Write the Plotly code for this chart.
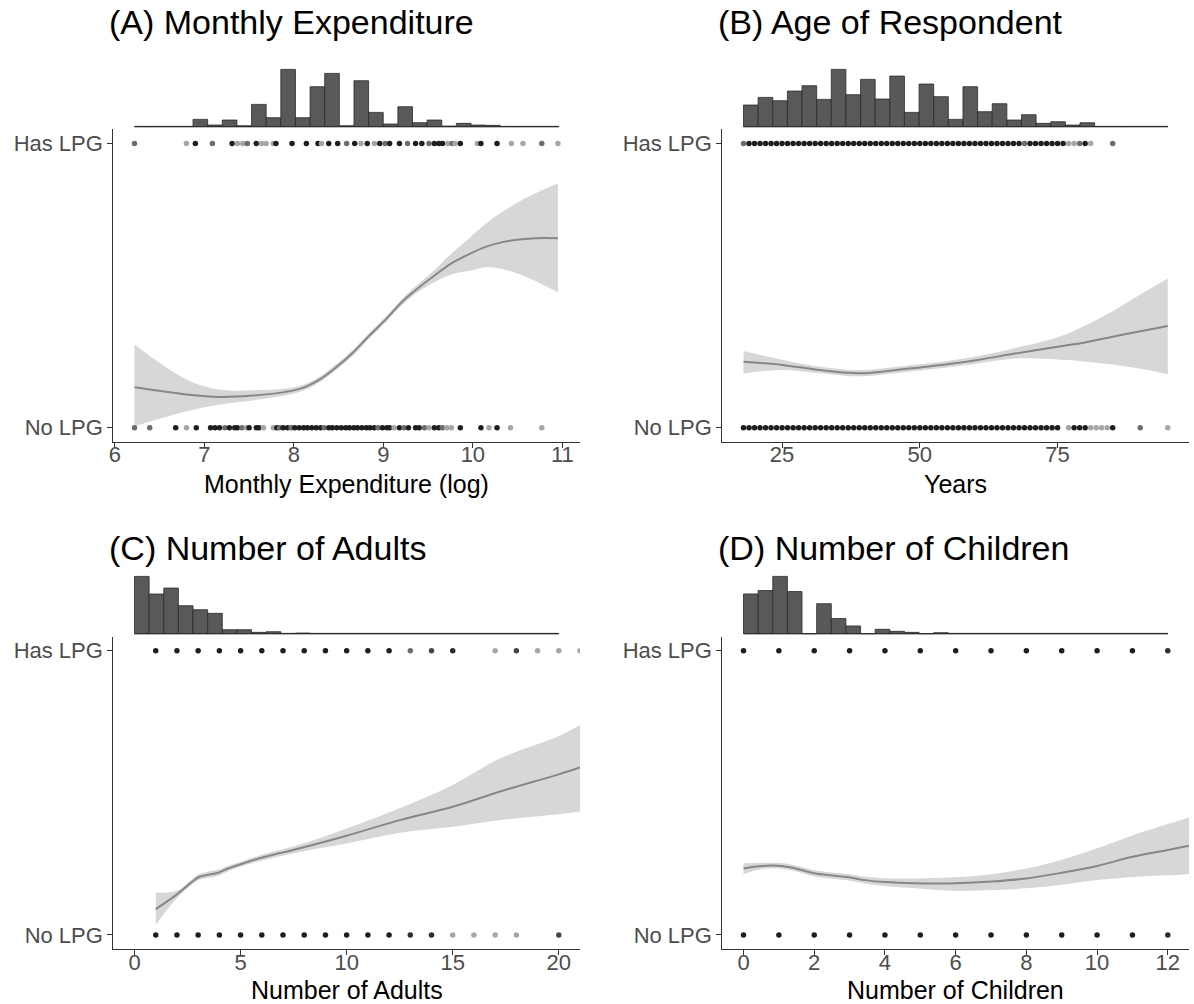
import numpy as np
import plotly.graph_objects as go

W, H = 1194, 1004
FONT = "Liberation Sans, Arial, Helvetica, sans-serif"

# ---------------------------------------------------------------- data
# (A) Monthly Expenditure (log)
a_curve_x = [6.22, 6.8, 7.17, 7.54, 7.91, 8.1, 8.29, 8.47, 8.66, 8.84, 9.03, 9.21, 9.4, 9.59, 9.77, 9.96, 10.15, 10.33, 10.52, 10.7, 10.95]
a_curve_y = [0.142, 0.117, 0.108, 0.113, 0.126, 0.14, 0.17, 0.212, 0.264, 0.323, 0.382, 0.443, 0.494, 0.54, 0.58, 0.611, 0.637, 0.653, 0.662, 0.667, 0.667]
a_curve_lo = [0.005, 0.058, 0.081, 0.096, 0.114, 0.13, 0.16, 0.202, 0.254, 0.313, 0.372, 0.432, 0.48, 0.515, 0.54, 0.552, 0.565, 0.558, 0.54, 0.516, 0.476]
a_curve_hi = [0.293, 0.17, 0.134, 0.132, 0.138, 0.15, 0.18, 0.222, 0.274, 0.333, 0.392, 0.454, 0.508, 0.56, 0.616, 0.667, 0.719, 0.76, 0.796, 0.825, 0.859]
a_has_x = [6.22, 6.80, 6.90, 7.09, 7.31, 7.37, 7.43, 7.48, 7.58, 7.64, 7.69, 7.77, 7.80, 7.98, 8.14, 8.27, 8.31, 8.39, 8.49, 8.59, 8.68, 8.75, 8.82, 8.90, 8.96, 9.02, 9.07, 9.18, 9.27, 9.36, 9.43, 9.51, 9.57, 9.62, 9.66, 9.72, 9.77, 9.80, 9.86, 10.05, 10.09, 10.27, 10.43, 10.56, 10.77, 10.95]
a_has_n = [2, 1, 5, 2, 5, 1, 1, 2, 5, 1, 1, 1, 5, 5, 5, 5, 1, 5, 5, 2, 5, 1, 5, 1, 5, 2, 5, 5, 2, 5, 5, 2, 5, 5, 5, 1, 2, 1, 5, 1, 5, 5, 1, 1, 2, 1]
a_no_x = [6.22, 6.39, 6.68, 6.80, 6.91, 7.07, 7.12, 7.17, 7.23, 7.28, 7.34, 7.37, 7.42, 7.47, 7.50, 7.58, 7.61, 7.66, 7.77, 7.81, 7.84, 7.88, 7.93, 7.97, 8.01, 8.06, 8.11, 8.15, 8.20, 8.25, 8.30, 8.34, 8.39, 8.43, 8.48, 8.53, 8.58, 8.62, 8.67, 8.71, 8.76, 8.81, 8.85, 8.90, 8.94, 8.99, 9.04, 9.07, 9.12, 9.18, 9.23, 9.28, 9.36, 9.40, 9.46, 9.51, 9.57, 9.62, 9.66, 9.71, 9.76, 9.86, 10.09, 10.18, 10.27, 10.42, 10.77]
a_no_n = [2, 2, 5, 1, 5, 5, 5, 5, 2, 5, 5, 5, 2, 1, 5, 5, 5, 1, 1, 5, 2, 5, 5, 2, 5, 5, 5, 5, 5, 5, 5, 2, 5, 5, 5, 5, 5, 5, 5, 5, 5, 5, 5, 5, 2, 5, 5, 5, 1, 5, 2, 5, 5, 5, 2, 1, 5, 5, 2, 1, 1, 5, 5, 1, 5, 1, 1]
a_hist_range = [6.22, 10.96]
a_hist_counts = [1, 1, 1, 1, 22, 5, 20, 3, 67, 27, 172, 27, 120, 160, 3, 138, 43, 8, 60, 12, 20, 2, 10, 5, 4, 1, 1, 1, 1]

# (B) Age of Respondent
b_curve_x = [18, 25, 31, 37, 40, 43, 50, 55, 61, 67, 75, 80, 85, 91, 95]
b_curve_y = [0.232, 0.221, 0.205, 0.193, 0.192, 0.197, 0.212, 0.223, 0.24, 0.26, 0.285, 0.30, 0.32, 0.343, 0.358]
b_curve_lo = [0.191, 0.203, 0.193, 0.182, 0.181, 0.186, 0.201, 0.212, 0.228, 0.243, 0.240, 0.233, 0.222, 0.204, 0.188]
b_curve_hi = [0.27, 0.239, 0.217, 0.204, 0.203, 0.208, 0.223, 0.235, 0.254, 0.279, 0.318, 0.36, 0.41, 0.48, 0.525]
b_has_x = [18, 19, 20, 21, 22, 23, 24, 25, 26, 27, 28, 29, 30, 31, 32, 33, 34, 35, 36, 37, 38, 39, 40, 41, 42, 43, 44, 45, 46, 47,
           48, 49, 50, 51, 52, 53, 54, 55, 56, 57, 58, 59, 60, 61, 62, 63, 64, 65, 66, 67, 68, 69, 70, 71, 72, 73, 74, 75, 76,
           77, 78, 79, 80, 81, 85]
b_has_n = [2, 5, 5, 5, 5, 5, 5, 5, 5, 5, 5, 5, 5, 5, 5, 5, 5, 5, 5, 5, 5, 5, 5, 5, 5, 5, 5, 5, 5, 5,
           5, 5, 5, 5, 5, 5, 5, 5, 5, 5, 5, 5, 5, 5, 5, 5, 5, 5, 5, 5, 5, 2, 5, 5, 5, 5, 5, 5, 5,
           1, 1, 2, 5, 1, 2]
b_no_x = [18, 19, 20, 21, 22, 23, 24, 25, 26, 27, 28, 29, 30, 31, 32, 33, 34, 35, 36, 37, 38, 39, 40, 41, 42, 43, 44, 45, 46, 47,
          48, 49, 50, 51, 52, 53, 54, 55, 56, 57, 58, 59, 60, 61, 62, 63, 64, 65, 66, 67, 68, 69, 70, 71, 72, 73, 74, 75,
          77, 78, 79, 80, 81, 82, 83, 84, 85, 90, 95]
b_no_n = [5, 5, 5, 5, 5, 5, 5, 5, 5, 5, 5, 5, 5, 5, 5, 5, 5, 5, 5, 5, 5, 5, 5, 5, 5, 5, 5, 5, 5, 5,
          5, 5, 5, 5, 5, 5, 5, 5, 5, 5, 5, 5, 5, 5, 5, 5, 5, 5, 5, 5, 5, 5, 5, 5, 5, 5, 5, 5,
          1, 5, 5, 5, 1, 1, 1, 1, 5, 2, 1]
b_hist_range = [18, 95]
b_hist_counts = [65, 88, 78, 107, 123, 82, 172, 96, 142, 83, 152, 43, 128, 90, 22, 120, 45, 69, 20, 36, 10, 15, 5, 12, 1, 1, 1, 1, 1]

# (C) Number of Adults
c_curve_x = [1, 2, 2.76, 3.07, 3.4, 3.95, 4.35, 5, 5.9, 7.8, 10, 12.5, 15, 17.2, 20, 21]
c_curve_y = [0.091, 0.143, 0.19, 0.205, 0.211, 0.219, 0.232, 0.249, 0.27, 0.305, 0.349, 0.404, 0.451, 0.504, 0.565, 0.589]
c_curve_lo = [0.035, 0.13, 0.18, 0.195, 0.20, 0.208, 0.222, 0.24, 0.26, 0.292, 0.322, 0.36, 0.381, 0.404, 0.425, 0.434]
c_curve_hi = [0.149, 0.156, 0.20, 0.215, 0.222, 0.23, 0.242, 0.258, 0.28, 0.318, 0.375, 0.446, 0.528, 0.62, 0.70, 0.739]
c_has_x = [1, 2, 3, 4, 5, 6, 7, 8, 9, 10, 11, 12, 13, 14, 15, 17, 18, 19, 20, 21]
c_has_n = [5, 5, 5, 5, 5, 5, 5, 5, 5, 5, 5, 5, 2, 3, 4, 1, 3, 1, 1, 1]
c_no_x = [1, 2, 3, 4, 5, 6, 7, 8, 9, 10, 11, 12, 13, 14, 15, 16, 17, 18, 20]
c_no_n = [5, 5, 5, 5, 5, 5, 5, 5, 5, 5, 5, 5, 4, 4, 1, 1, 1, 1, 3]
c_hist_range = [0, 20]
c_hist_counts = [172, 119, 137, 84, 72, 61, 12, 12, 4, 6, 1, 2, 1, 1, 1, 1, 1, 1, 1, 1, 1, 1, 1, 1, 1, 1, 1, 1, 1]

# (D) Number of Children
d_curve_x = [0, 0.52, 1.08, 1.46, 2, 2.5, 2.97, 3.44, 4, 4.85, 6, 7.03, 8, 9, 10, 11, 12, 12.6]
d_curve_y = [0.234, 0.243, 0.243, 0.234, 0.217, 0.209, 0.203, 0.193, 0.186, 0.182, 0.182, 0.188, 0.199, 0.219, 0.243, 0.275, 0.299, 0.314]
d_curve_lo = [0.214, 0.232, 0.233, 0.224, 0.206, 0.198, 0.192, 0.181, 0.172, 0.164, 0.155, 0.158, 0.164, 0.177, 0.193, 0.204, 0.21, 0.214]
d_curve_hi = [0.252, 0.254, 0.253, 0.244, 0.228, 0.22, 0.214, 0.205, 0.2, 0.199, 0.203, 0.214, 0.234, 0.265, 0.305, 0.35, 0.39, 0.413]
d_has_x = [0, 1, 2, 3, 4, 5, 6, 7, 8, 9, 10, 11, 12]
d_has_n = [5, 5, 5, 5, 5, 5, 5, 5, 5, 5, 5, 5, 4]
d_no_x = [0, 1, 2, 3, 4, 5, 6, 7, 8, 9, 10, 11, 12]
d_no_n = [5, 5, 5, 5, 5, 5, 5, 5, 5, 5, 5, 5, 4]
d_hist_range = [0, 12]
d_hist_counts = [118, 128, 170, 125, 0, 89, 45, 23, 0, 13, 7, 4, 0, 3, 1, 1, 1, 1, 1, 1, 1, 1, 1, 1, 1, 1, 1, 1, 1]

y_tick_vals = [0, 1]
y_tick_text = ["No LPG", "Has LPG"]

panels = [
    dict(title="(A) Monthly Expenditure", xtitle="Monthly Expenditure (log)",
         cx=a_curve_x, cy=a_curve_y, lo=a_curve_lo, hi=a_curve_hi,
         has_x=a_has_x, has_n=a_has_n, no_x=a_no_x, no_n=a_no_n,
         hr=a_hist_range, hc=a_hist_counts,
         xrange=[5.983, 11.197], xticks=[6, 7, 8, 9, 10, 11], col=0, row=0),
    dict(title="(B) Age of Respondent", xtitle="Years",
         cx=b_curve_x, cy=b_curve_y, lo=b_curve_lo, hi=b_curve_hi,
         has_x=b_has_x, has_n=b_has_n, no_x=b_no_x, no_n=b_no_n,
         hr=b_hist_range, hc=b_hist_counts,
         xrange=[14.15, 98.85], xticks=[25, 50, 75], col=1, row=0),
    dict(title="(C) Number of Adults", xtitle="Number of Adults",
         cx=c_curve_x, cy=c_curve_y, lo=c_curve_lo, hi=c_curve_hi,
         has_x=c_has_x, has_n=c_has_n, no_x=c_no_x, no_n=c_no_n,
         hr=c_hist_range, hc=c_hist_counts,
         xrange=[-1, 21], xticks=[0, 5, 10, 15, 20], col=0, row=1),
    dict(title="(D) Number of Children", xtitle="Number of Children",
         cx=d_curve_x, cy=d_curve_y, lo=d_curve_lo, hi=d_curve_hi,
         has_x=d_has_x, has_n=d_has_n, no_x=d_no_x, no_n=d_no_n,
         hr=d_hist_range, hc=d_hist_counts,
         xrange=[-0.6, 12.6], xticks=[0, 2, 4, 6, 8, 10, 12], col=1, row=1),
]

# ---------------------------------------------------------------- layout geometry (pixels)
COL_X = [(113.3, 580.0), (722.3, 1189.0)]
ROW_MAIN = [(129.3, 441.9), (636.5, 949.2)]
ROW_BASE = [126.7, 633.7]
ROW_TITLE = [22, 548]
ROW_XTITLE = [484, 990]
HIST_H = 57.3


def fx(p):
    return p / W


def fy(p):
    return 1 - p / H


def shade(n, alpha=0.35):
    v = int(round(255 * (1 - alpha) ** n))
    return f"rgb({v},{v},{v})"


fig = go.Figure()
layout = {}
annotations = []

axis_style = dict(ticks="outside", ticklen=5, tickwidth=1, tickcolor="#333333",
                  showline=True, linecolor="#333333", linewidth=1,
                  showgrid=False, zeroline=False, automargin=False,
                  tickfont=dict(size=22, color="#4d4d4d", family=FONT))

for i, p in enumerate(panels):
    m, h = 2 * i + 1, 2 * i + 2
    xm = "x" if m == 1 else f"x{m}"
    ym = "y" if m == 1 else f"y{m}"
    xh, yh = f"x{h}", f"y{h}"
    x0, x1 = COL_X[p["col"]]
    ytop, ybot = ROW_MAIN[p["row"]]
    base = ROW_BASE[p["row"]]

    # confidence band + smooth line
    fig.add_trace(go.Scatter(x=p["cx"], y=p["lo"], mode="lines",
                             line=dict(width=0, shape="spline", color="rgba(0,0,0,0)"),
                             xaxis=xm, yaxis=ym, showlegend=False, hoverinfo="skip"))
    fig.add_trace(go.Scatter(x=p["cx"], y=p["hi"], mode="lines", fill="tonexty",
                             fillcolor="#d7d7d7",
                             line=dict(width=0, shape="spline", color="rgba(0,0,0,0)"),
                             xaxis=xm, yaxis=ym, showlegend=False, hoverinfo="skip"))
    fig.add_trace(go.Scatter(x=p["cx"], y=p["cy"], mode="lines",
                             line=dict(width=2, shape="spline", color="#878787"),
                             xaxis=xm, yaxis=ym, showlegend=False))
    # observation dots
    for xs, ns, yv in [(p["has_x"], p["has_n"], 1), (p["no_x"], p["no_n"], 0)]:
        fig.add_trace(go.Scatter(x=xs, y=[yv] * len(xs), mode="markers",
                                 marker=dict(size=5.5, color=[shade(n) for n in ns], line=dict(width=0)),
                                 xaxis=xm, yaxis=ym, showlegend=False))

    # marginal histogram
    counts = p["hc"]
    edges = np.linspace(p["hr"][0], p["hr"][1], len(counts) + 1)
    centers = (edges[:-1] + edges[1:]) / 2
    fig.add_trace(go.Bar(x=centers, y=counts, width=edges[1] - edges[0],
                         marker=dict(color="#595959", line=dict(color="#2a2a2a", width=0.8)),
                         xaxis=xh, yaxis=yh, showlegend=False))
    fig.add_trace(go.Scatter(x=[edges[0], edges[-1]], y=[0, 0], mode="lines",
                             line=dict(color="#2a2a2a", width=1),
                             xaxis=xh, yaxis=yh, showlegend=False, hoverinfo="skip"))

    s = max(counts) / HIST_H
    layout["xaxis" if m == 1 else f"xaxis{m}"] = dict(
        domain=[fx(x0), fx(x1)], range=p["xrange"], anchor=ym, tickvals=p["xticks"],
        ticklabelstandoff=-12, **axis_style)
    layout["yaxis" if m == 1 else f"yaxis{m}"] = dict(
        domain=[fy(ybot), fy(ytop)], range=[-0.05, 1.05], anchor=xm,
        tickvals=y_tick_vals, ticktext=y_tick_text, **axis_style)
    layout[f"xaxis{h}"] = dict(domain=[fx(x0), fx(x1)], range=p["xrange"], anchor=yh, visible=False)
    layout[f"yaxis{h}"] = dict(domain=[fy(base + 2), fy(base - HIST_H * 1.05)],
                               range=[-2 * s, HIST_H * 1.05 * s], anchor=xh, visible=False)

    annotations.append(dict(text=p["title"], xref="paper", yref="paper",
                            x=fx(x0 - 6), y=fy(ROW_TITLE[p["row"]]), xanchor="left", yanchor="middle",
                            showarrow=False, font=dict(size=34, color="black", family=FONT)))
    annotations.append(dict(text=p["xtitle"], xref="paper", yref="paper",
                            x=fx((x0 + x1) / 2), y=fy(ROW_XTITLE[p["row"]]), xanchor="center", yanchor="middle",
                            showarrow=False, font=dict(size=25, color="black", family=FONT)))

fig.update_layout(width=W, height=H, margin=dict(l=0, r=0, t=0, b=0),
                  paper_bgcolor="white", plot_bgcolor="white", showlegend=False,
                  annotations=annotations, font=dict(family=FONT), **layout)

fig.write_html("out.html", config={"displayModeBar": False, "staticPlot": True},
               post_script="document.body.style.margin='0px';document.body.style.overflow='hidden';")
